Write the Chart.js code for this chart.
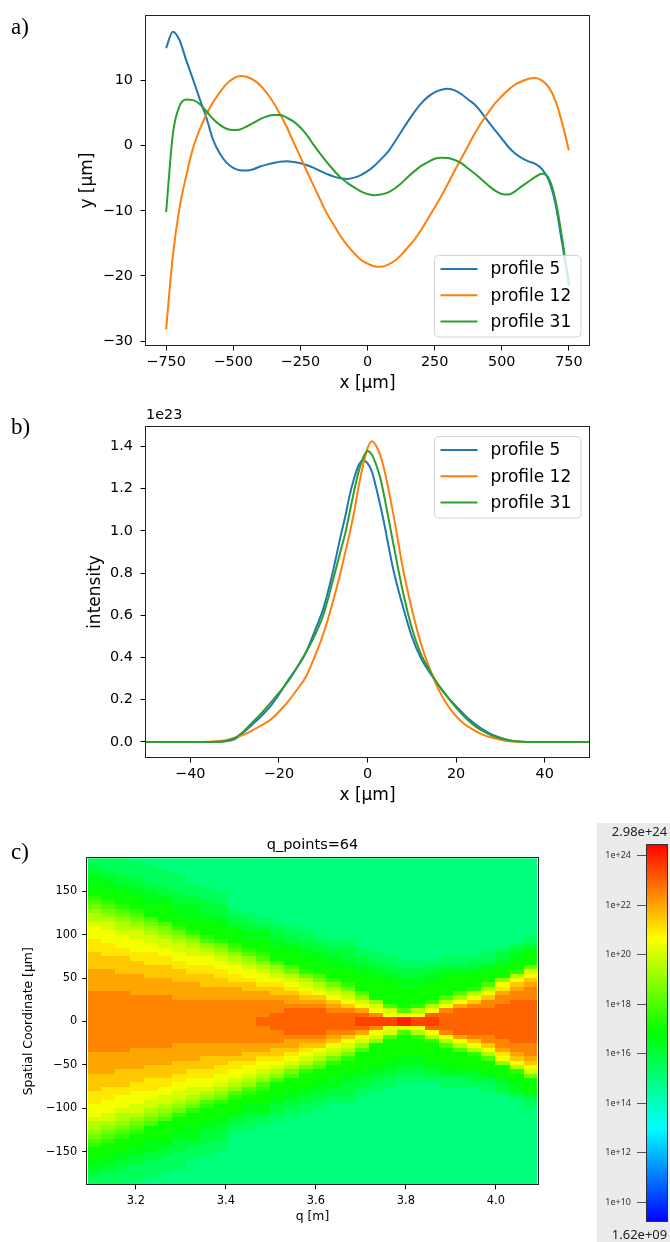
<!DOCTYPE html>
<html>
<head>
<meta charset="utf-8">
<title>beam profiles</title>
<script src="https://cdn.jsdelivr.net/npm/chart.js@4.4.1/dist/chart.umd.min.js"></script>
<style>
  html, body { margin: 0; padding: 0; background: #fff; }
  #page { position: relative; width: 670px; height: 1242px; overflow: hidden; }
  canvas { position: absolute; }
  .panel { position: absolute; z-index: 2; font-family: "Liberation Serif", "DejaVu Serif", serif; font-size: 23px; line-height: 23px; color: #000; }
</style>
</head>
<body>
<div id="page">
  <canvas id="chartA" width="670" height="400" style="left:0;top:0"></canvas>
  <canvas id="chartB" width="670" height="420" style="left:0;top:400px"></canvas>
  <canvas id="chartC" width="597" height="422" style="left:0;top:820px"></canvas>
  <canvas id="cbar" width="73" height="419" style="left:597px;top:823px;background:#ebebeb"></canvas>
  <div class="panel" style="left:11px;top:15px">a)</div>
  <div class="panel" style="left:11px;top:415px">b)</div>
  <div class="panel" style="left:11px;top:840px">c)</div>
</div>
<script>
// ---- a) surface profiles, x and y in µm ----
const xA = [-750,-725,-700,-675,-650,-625,-600,-575,-550,-525,-500,-475,-450,-425,-400,-375,-350,-325,-300,-275,
  -250,-225,-200,-175,-150,-125,-100,-75,-50,-25,0,25,50,75,100,125,150,175,200,225,
  250,275,300,325,350,375,400,425,450,475,500,525,550,575,600,625,650,675,700,725,750];
const prof5A = [15.0,17.5,16.2,13.1,10.2,7.2,4.3,0.9,-1.2,-2.6,-3.4,-3.75,-3.8,-3.6,-3.2,-2.9,-2.65,-2.45,-2.4,-2.5,
  -2.7,-3.0,-3.4,-3.9,-4.35,-4.75,-5.0,-5.1,-4.9,-4.5,-3.9,-3.1,-2.1,-1.0,0.5,2.1,3.7,5.2,6.5,7.5,
  8.2,8.6,8.75,8.5,7.9,7.1,6.3,5.1,3.7,2.4,1.1,-0.2,-1.2,-1.9,-2.4,-2.8,-3.6,-5.3,-8.9,-15.0,-21.0];
const prof12A = [-28.2,-16.9,-9.5,-4.6,-0.4,2.5,4.8,6.7,8.2,9.5,10.3,10.7,10.6,10.1,9.3,8.1,6.6,4.8,2.8,0.5,
  -1.7,-4.0,-6.2,-8.4,-10.5,-12.2,-13.9,-15.3,-16.5,-17.5,-18.1,-18.5,-18.6,-18.3,-17.7,-16.8,-15.6,-14.4,-12.9,-11.2,
  -9.5,-7.7,-5.8,-3.8,-1.9,0.0,1.9,3.6,5.1,6.5,7.6,8.6,9.4,9.9,10.3,10.4,10.0,9.0,6.9,3.5,-0.7];
const prof31A = [-10.2,1.8,6.1,7.1,7.0,6.4,5.3,4.1,3.2,2.6,2.4,2.5,2.95,3.5,4.1,4.5,4.7,4.7,4.3,3.7,
  2.8,1.6,0.1,-1.3,-2.6,-3.8,-4.9,-5.7,-6.4,-7.0,-7.4,-7.6,-7.5,-7.2,-6.6,-5.8,-4.8,-3.9,-3.1,-2.5,
  -2.0,-1.85,-1.9,-2.2,-2.7,-3.5,-4.3,-5.2,-6.1,-6.9,-7.4,-7.5,-7.0,-6.2,-5.5,-4.8,-4.3,-5.0,-8.3,-14.2,-21.5];
const xTicksA = [-750,-500,-250,0,250,500,750];
const yTicksA = [-30,-20,-10,0,10];

// ---- b) intensity profiles, values in units of 1e23 ----
const xB = [-50,-45,-40,-36,-34,-32,-30,-28,-26,-24,-22,-20,-18,-16,-14,-12,-10,-8,-6,-5,-4,-3,-2,-1,0,
  1,2,3,4,5,6,8,10,12,14,16,18,20,22,24,26,28,30,32,34,36,40,45,50];
const prof5B = [0,0,0,0,0.001,0.004,0.014,0.045,0.083,0.122,0.167,0.225,0.29,0.35,0.42,0.52,0.63,0.79,0.98,1.07,1.17,1.25,1.31,1.334,1.32,
  1.28,1.20,1.11,1.01,0.90,0.80,0.64,0.50,0.40,0.33,0.27,0.215,0.17,0.126,0.09,0.06,0.036,0.02,0.008,0.002,0,0,0,0];
const prof12B = [0,0,0,0.001,0.003,0.008,0.02,0.034,0.055,0.078,0.104,0.143,0.19,0.245,0.305,0.40,0.51,0.65,0.81,0.90,0.99,1.09,1.21,1.31,1.39,
  1.424,1.40,1.35,1.27,1.17,1.06,0.82,0.63,0.47,0.35,0.25,0.176,0.122,0.083,0.056,0.035,0.021,0.011,0.004,0.001,0,0,0,0];
const prof31B = [0,0,0,0,0.001,0.005,0.018,0.05,0.092,0.135,0.183,0.232,0.285,0.35,0.42,0.50,0.60,0.75,0.91,0.99,1.09,1.19,1.28,1.345,1.378,
  1.36,1.31,1.24,1.14,1.03,0.92,0.71,0.54,0.42,0.34,0.27,0.215,0.163,0.117,0.08,0.052,0.031,0.017,0.007,0.002,0,0,0,0];
const xTicksB = [-40,-20,0,20,40];
const yTicksB = [0,0.2,0.4,0.6,0.8,1.0,1.2,1.4];
const offsetB = '1e23';

// ---- c) intensity map: q columns, spatial rows, log10 intensity per cell ----
const qPoints = 64;
const qCols = [3.108,3.139,3.170,3.202,3.233,3.264,3.295,3.327,3.358,3.389,3.420,3.452,3.483,3.514,3.546,3.577,
  3.608,3.639,3.671,3.702,3.733,3.765,3.796,3.827,3.858,3.890,3.921,3.952,3.983,4.015,4.046,4.077];
const yRows = [187.5,182.5,177.5,172.5,167.5,162.5,157.5,152.5,147.5,142.5,
  137.5,132.5,127.5,122.5,117.5,112.5,107.5,102.5,97.5,92.5,
  87.5,82.5,77.5,72.5,67.5,62.5,57.5,52.5,47.5,42.5,
  37.5,32.5,27.5,22.5,17.5,12.5,7.5,2.5,
  -2.5,-7.5,-12.5,-17.5,-22.5,-27.5,-32.5,-37.5,
  -42.5,-47.5,-52.5,-57.5,-62.5,-67.5,-72.5,-77.5,-82.5,-87.5,
  -92.5,-97.5,-102.5,-107.5,-112.5,-117.5,-122.5,-127.5,-132.5,-137.5,
  -142.5,-147.5,-152.5,-157.5,-162.5,-167.5,-172.5,-177.5,-182.5,-187.5];
// one string per q column, top row first; each char is a level: log10(I) = 15 + 0.5 * index
const levelChars = '0123456789abcdefghi';
const levelBase = 15, levelStep = 0.5;
const logIntensityCols = [
  '112233444567899abbbcccddddeeeeefffffff' + 'fffffffeeeeeddddcccbbba998765444332211',
  '111223344456789aabbbcccdddeeeeefffffff' + 'fffffffeeeeedddcccbbbaa987654443322111',
  '11112233444567899abbbccddddeeeefffffff' + 'fffffffeeeeddddccbbba99876544433221111',
  '01111223344456789aabbbccdddeeeeeffffff' + 'ffffffeeeeedddccbbbaa98765444332211110',
  '001111223334446789aabbcccdddeeeeffffff' + 'ffffffeeeedddcccbbaa987644433322111100',
  '0001111223344446789aabbccdddeeeeffffff' + 'ffffffeeeedddccbbaa9876444433221111000',
  '00001111222334445789aabbccdddeeeefffff' + 'fffffeeeedddccbbaa98754443322211110000',
  '000000111223334445789aabbccddeeeefffff' + 'fffffeeeeddccbbaa987544433322111000000',
  '0000000111222334445689abbccdddeeefffff' + 'fffffeeedddccbba9865444332221110000000',
  '00000000111222334445789abbccddeeefffff' + 'fffffeeeddccbba98754443322211100000000',
  '000000000000112234445689abbccdeeefffff' + 'fffffeeedccbba986544432211000000000000',
  '0000000000000112233445689abbcddeefffff' + 'fffffeeddcbba9865443322110000000000000',
  '00000000000000112334445689abbcdeeffffg' + 'gffffeedcbba98654443321100000000000000',
  '000000000000000112233444689abcddefffgg' + 'ggfffeddcba986444332211000000000000000',
  '0000000000000000112233444679abcdeefggg' + 'gggfeedcba9764443322110000000000000000',
  '00000000000000000112233444579abcdefggg' + 'gggfedcba97544433221100000000000000000',
  '000000000000000000112233444679abdefggg' + 'gggfedba976444332211000000000000000000',
  '0000000000000000000112233444579abdefgg' + 'ggfedba9754443322110000000000000000000',
  '00000000000000000001122233444579abdfgg' + 'ggfdba97544433222110000000000000000000',
  '000000000000000000000112233444468abegh' + 'hgeba864444332211000000000000000000000',
  '0000000000000000000000112233444448abfh' + 'hfba8444443322110000000000000000000000',
  '00000000000000000000000112233444446abh' + 'hba64444433221100000000000000000000000',
  '000000000000000000000000112233444446bi' + 'ib644444332211000000000000000000000000',
  '000000000000000000000000112233444459bh' + 'hb954444332211000000000000000000000000',
  '00000000000000000000000012233444459bgh' + 'hgb95444433221000000000000000000000000',
  '0000000000000000000000011233444469bfgg' + 'ggfb9644443321100000000000000000000000',
  '000000000000000000000001123444469beggg' + 'gggeb964444321100000000000000000000000',
  '00000000000000000000000122344459bdfggg' + 'gggfdb95444322100000000000000000000000',
  '0000000000000000000000112344469bdffggg' + 'gggffdb9644432110000000000000000000000',
  '00000000000000000000012234448bceffgggg' + 'ggggffecb84443221000000000000000000000',
  '0000000000000000000012334459bdeffggggg' + 'gggggffedb9544332100000000000000000000',
  '00000000000000000011234447abdefffggggg' + 'gggggfffedba74443211000000000000000000'
];
const qTicks = [3.2,3.4,3.6,3.8,4.0];
const yTicksC = [-150,-100,-50,0,50,100,150];
const cbarMin = 1.62e9, cbarMax = 2.98e24;
const cbarTicks = [1e10,1e12,1e14,1e16,1e18,1e20,1e22,1e24];

const seriesLabels = ['profile 5', 'profile 12', 'profile 31'];
const seriesColors = ['#1f77b4', '#ff7f0e', '#2ca02c'];
const cmapStops = [[0,0,255],[0,255,255],[0,255,0],[255,255,0],[255,0,0]];

Chart.defaults.font.family = 'DejaVu Sans';
Chart.defaults.color = '#000';

const minus = v => String(v).replace('-', '\u2212');
const fixTicks = list => scale => { scale.ticks = list.map(v => ({ value: v })); };

function colourFor(logv) {
  const lo = Math.log10(cbarMin), hi = Math.log10(cbarMax);
  let t = Math.max(0, Math.min(1, (logv - lo) / (hi - lo))) * (cmapStops.length - 1);
  const k = Math.min(cmapStops.length - 2, Math.floor(t)), f = t - k;
  const c = cmapStops[k].map((a, n) => Math.round(a + (cmapStops[k + 1][n] - a) * f));
  return `rgb(${c[0]},${c[1]},${c[2]})`;
}

function sci(v) {
  const [m, e] = v.toExponential(2).split('e');
  const n = parseInt(e, 10);
  return m + 'e' + (n < 0 ? '-' : '+') + String(Math.abs(n)).padStart(2, '0');
}

function roundedRect(ctx, x, y, w, h, r) {
  ctx.beginPath();
  ctx.moveTo(x + r, y);
  ctx.arcTo(x + w, y, x + w, y + h, r);
  ctx.arcTo(x + w, y + h, x, y + h, r);
  ctx.arcTo(x, y + h, x, y, r);
  ctx.arcTo(x, y, x + w, y, r);
  ctx.closePath();
}

const frame = {
  id: 'frame',
  afterDatasetsDraw(chart) {
    const { ctx, chartArea: a } = chart;
    const l = Math.round(a.left), t = Math.round(a.top), r = Math.round(a.right), b = Math.round(a.bottom);
    ctx.save();
    ctx.strokeStyle = '#222';
    ctx.lineWidth = 1;
    ctx.strokeRect(l - 0.5, t - 0.5, r - l + 1, b - t + 1);
    ctx.restore();
  }
};

const mplLegend = {
  id: 'mplLegend',
  afterDraw(chart, args, opts) {
    if (!opts.corner) return;
    const { ctx, chartArea: a } = chart;
    const w = 146.5, h = 81.5, gap = 8.5;
    const x = Math.round(a.right - gap - w) + 0.5;
    const y = Math.round(opts.corner === 'lower' ? a.bottom - gap - h : a.top + gap) + 0.5;
    ctx.save();
    roundedRect(ctx, x, y, w, h, 4);
    ctx.fillStyle = 'rgba(255,255,255,0.8)';
    ctx.fill();
    ctx.strokeStyle = '#d4d4d4';
    ctx.lineWidth = 1;
    ctx.stroke();
    ctx.font = '17px "DejaVu Sans"';
    ctx.textBaseline = 'middle';
    chart.data.datasets.forEach((ds, i) => {
      const cy = y + 13.5 + i * 26.3;
      ctx.strokeStyle = ds.borderColor;
      ctx.lineWidth = 2;
      ctx.beginPath();
      ctx.moveTo(x + 6, cy);
      ctx.lineTo(x + 43, cy);
      ctx.stroke();
      ctx.fillStyle = '#000';
      ctx.fillText(ds.label, x + 56, cy + 1);
    });
    ctx.restore();
  }
};

const cornerText = {
  id: 'cornerText',
  afterDraw(chart, args, opts) {
    if (!opts.text) return;
    const { ctx, chartArea: a } = chart;
    ctx.save();
    ctx.font = opts.font;
    ctx.fillStyle = '#000';
    ctx.textBaseline = 'middle';
    ctx.textAlign = opts.align;
    ctx.fillText(opts.text, opts.align === 'center' ? (a.left + a.right) / 2 : a.left, a.top - opts.dy);
    ctx.restore();
  }
};

function lineSets(xs, series) {
  return series.map((ys, i) => ({
    label: seriesLabels[i],
    data: xs.map((x, k) => ({ x, y: ys[k] })),
    borderColor: seriesColors[i],
    borderWidth: 2,
    pointRadius: 0,
    fill: false,
    cubicInterpolationMode: 'monotone',
    order: 3 - i
  }));
}

function axis(c, size, fontSize, titleSize, tickLen, tickPad) {
  return {
    type: 'linear', min: c.min, max: c.max,
    afterBuildTicks: fixTicks(c.ticks),
    afterFit: s => { if (s.isHorizontal()) s.height = size; else s.width = size; },
    ticks: { callback: c.fmt, font: { family: 'DejaVu Sans', size: fontSize }, color: '#000', padding: tickPad, autoSkip: false, maxRotation: 0 },
    grid: { drawOnChartArea: false, tickLength: tickLen, color: '#000', lineWidth: 1 },
    border: { display: false },
    title: { display: true, text: c.title, color: '#000', font: { family: 'DejaVu Sans', size: titleSize }, padding: c.titlePad }
  };
}

function commonOpts(padding, plugins, scales) {
  return {
    responsive: false, animation: false, devicePixelRatio: 1, events: [],
    layout: { padding },
    plugins: Object.assign({ legend: { display: false }, tooltip: { enabled: false }, title: { display: false } }, plugins),
    scales
  };
}

// a)
new Chart(document.getElementById('chartA'), {
  type: 'line',
  data: { datasets: lineSets(xA, [prof5A, prof12A, prof31A]) },
  options: commonOpts({ left: 0, right: 81, top: 15, bottom: 0 },
    { mplLegend: { corner: 'lower' } },
    {
      x: axis({ min: -825, max: 825, ticks: xTicksA, fmt: v => minus(v), title: 'x [μm]', titlePad: { top: 0, bottom: 6.3 } }, 55, 14.4, 17, 5.5, 3),
      y: axis({ min: -30.6, max: 19.9, ticks: yTicksA, fmt: v => minus(v), title: 'y [μm]', titlePad: { top: 77.8, bottom: 0 } }, 146, 14.4, 17, 5.5, 7.5)
    }),
  plugins: [frame, mplLegend]
});

// b)
new Chart(document.getElementById('chartB'), {
  type: 'line',
  data: { datasets: lineSets(xB, [prof5B, prof12B, prof31B]) },
  options: commonOpts({ left: 0, right: 81, top: 27, bottom: 0 },
    { mplLegend: { corner: 'upper' }, cornerText: { text: offsetB, font: '14.4px "DejaVu Sans"', align: 'left', dy: 12 } },
    {
      x: axis({ min: -50, max: 50, ticks: xTicksB, fmt: v => minus(v), title: 'x [μm]', titlePad: { top: 0, bottom: 13.8 } }, 63, 14.4, 17, 5.5, 3),
      y: axis({ min: -0.0711, max: 1.4913, ticks: yTicksB, fmt: v => v.toFixed(1), title: 'intensity', titlePad: { top: 85.8, bottom: 0 } }, 146, 14.4, 17, 5.5, 7.5)
    }),
  plugins: [frame, mplLegend, cornerText]
});

// c) cells built from the column strings
const edges = arr => arr.map((v, k) => [
  k > 0 ? (arr[k - 1] + v) / 2 : v - (arr[1] - arr[0]) / 2,
  k < arr.length - 1 ? (v + arr[k + 1]) / 2 : v + (v - arr[k - 1]) / 2
]);
const qEdges = edges(qCols), yEdges = edges(yRows);
const cells = [];
qCols.forEach((q, j) => {
  yRows.forEach((y, i) => {
    cells.push({
      x: q, y,
      v: levelBase + levelStep * levelChars.indexOf(logIntensityCols[j][i]),
      q0: qEdges[j][0], q1: qEdges[j][1], y0: yEdges[i][0], y1: yEdges[i][1]
    });
  });
});

const heatmap = {
  id: 'heatmap',
  beforeDatasetsDraw(chart) {
    const { ctx, chartArea: a, scales: { x, y } } = chart;
    ctx.save();
    ctx.beginPath();
    ctx.rect(a.left, a.top, a.width, a.height);
    ctx.clip();
    chart.data.datasets[0].data.forEach(c => {
      const x0 = Math.round(x.getPixelForValue(c.q0)), x1 = Math.round(x.getPixelForValue(c.q1));
      const ya = Math.round(y.getPixelForValue(c.y0)), yb = Math.round(y.getPixelForValue(c.y1));
      ctx.fillStyle = colourFor(c.v);
      ctx.fillRect(x0, Math.min(ya, yb), x1 - x0, Math.abs(yb - ya));
    });
    ctx.restore();
  }
};

new Chart(document.getElementById('chartC'), {
  type: 'scatter',
  data: { datasets: [{ label: 'intensity', data: cells, pointRadius: 0, showLine: false }] },
  options: commonOpts({ left: 0, right: 59.3, top: 38.3, bottom: 0 },
    { cornerText: { text: 'q_points=' + qPoints, font: '14.5px "DejaVu Sans"', align: 'center', dy: 13.3 } },
    {
      x: axis({ min: 3.092, max: 4.093, ticks: qTicks, fmt: v => v.toFixed(1), title: 'q [m]', titlePad: { top: 0, bottom: 17.9 } }, 57.7, 11.4, 12.4, 5, 5),
      y: axis({ min: -187.5, max: 188, ticks: yTicksC, fmt: v => minus(v), title: 'Spatial Coordinate [μm]', titlePad: { top: 21.1, bottom: 0 } }, 87.3, 11.4, 12.4, 5, 5)
    }),
  plugins: [heatmap, frame, cornerText]
});

// colour bar
const cbarDraw = {
  id: 'cbarDraw',
  beforeDatasetsDraw(chart) {
    const { ctx, chartArea: a } = chart;
    const g = ctx.createLinearGradient(0, a.bottom, 0, a.top);
    cmapStops.forEach((c, k) => g.addColorStop(k / (cmapStops.length - 1), `rgb(${c[0]},${c[1]},${c[2]})`));
    ctx.save();
    ctx.fillStyle = g;
    ctx.fillRect(a.left, a.top, a.width, a.height);
    ctx.strokeStyle = '#333';
    ctx.lineWidth = 1;
    ctx.strokeRect(Math.round(a.left) + 0.5, Math.round(a.top) + 0.5, Math.round(a.width) - 1, Math.round(a.height) - 1);
    ctx.restore();
  },
  afterDraw(chart) {
    const { ctx, chartArea: a } = chart;
    ctx.save();
    ctx.font = '13px "Noto Sans"';
    ctx.fillStyle = '#222';
    ctx.textAlign = 'center';
    ctx.textBaseline = 'middle';
    ctx.fillText(sci(cbarMax), 42.5, a.top - 12);
    ctx.fillText(sci(cbarMin), 42.5, a.bottom + 13);
    ctx.restore();
  }
};

new Chart(document.getElementById('cbar'), {
  type: 'scatter',
  data: { datasets: [{ data: [], pointRadius: 0 }] },
  options: commonOpts({ left: 0, right: 2, top: 21, bottom: 20 }, {}, {
    x: { display: false, min: 0, max: 1 },
    y: {
      type: 'logarithmic', position: 'left', min: cbarMin, max: cbarMax,
      afterBuildTicks: fixTicks(cbarTicks),
      afterFit: s => { s.width = 49; },
      ticks: { callback: v => '1e+' + Math.round(Math.log10(v)), font: { family: 'Noto Sans', size: 9 }, color: '#333', padding: 6, autoSkip: false },
      grid: { drawOnChartArea: false, tickLength: 9, color: '#555', lineWidth: 1 },
      border: { display: false }
    }
  }),
  plugins: [cbarDraw]
});

const badCols = logIntensityCols.map((s, j) => (s.length !== yRows.length ? j : -1)).filter(j => j >= 0);
if (badCols.length) setTimeout(() => { throw new Error('column length mismatch: ' + badCols.join(',')); }, 0);
</script>
</body>
</html>
